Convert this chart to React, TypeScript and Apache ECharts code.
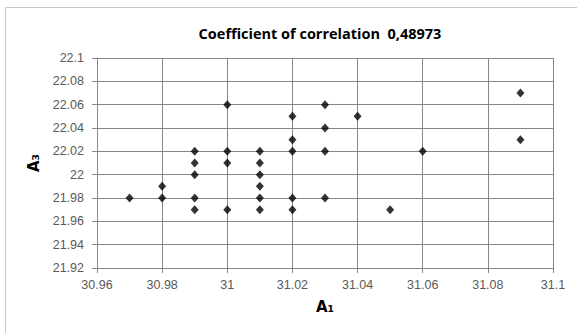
import React, { useEffect, useRef } from "react";
import * as echarts from "echarts";

const titleText = "Coefficient of correlation  0,48973";
const xName = "A₁";
const yName = "A₃";

const a1Values = [
  31.0, 31.03, 31.02, 31.04, 31.09, 31.03, 31.02, 31.09,
  30.99, 31.0, 31.01, 31.02, 31.03, 31.06,
  30.99, 31.0, 31.01,
  30.99, 31.01,
  30.98, 31.01,
  30.97, 30.98, 30.99, 31.01, 31.02, 31.03,
  30.99, 31.0, 31.01, 31.02, 31.05,
];
const a3Values = [
  22.06, 22.06, 22.05, 22.05, 22.07, 22.04, 22.03, 22.03,
  22.02, 22.02, 22.02, 22.02, 22.02, 22.02,
  22.01, 22.01, 22.01,
  22.0, 22.0,
  21.99, 21.99,
  21.98, 21.98, 21.98, 21.98, 21.98, 21.98,
  21.97, 21.97, 21.97, 21.97, 21.97,
];

const xMin = 30.96, xMax = 31.1, xStep = 0.02;
const yMin = 21.92, yMax = 22.1, yStep = 0.02;

const fmt = (v: number) => String(Math.round(v * 100) / 100);

export default function App() {
  const ref = useRef<HTMLDivElement>(null);
  useEffect(() => {
    if (!ref.current) return;
    const chart = echarts.init(ref.current, undefined, { renderer: "svg" });
    const grey = "#868686";
    const labelStyle = { color: "#595959", fontSize: 12.5, fontFamily: "Liberation Sans" };
    const nameStyle = { fontFamily: "DejaVu Sans", fontWeight: "bold", fontSize: 15, color: "#000" };
    chart.setOption({
      animation: false,
      backgroundColor: "#ffffff",
      title: {
        text: titleText,
        left: 315,
        top: 21,
        textAlign: "center",
        textStyle: { fontFamily: "Open Sans", fontWeight: "bold", fontSize: 14.5, color: "#000" },
      },
      graphic: [
        {
          type: "rect",
          shape: { x: 5.5, y: 7.5, width: 700, height: 500 },
          style: { fill: "none", stroke: "#c8c8c8", lineWidth: 1 },
          silent: true,
          z: -1,
        },
      ],
      grid: { left: 97, right: 24, top: 58, bottom: 65 },
      xAxis: {
        type: "value",
        min: xMin,
        max: xMax,
        interval: xStep,
        name: xName,
        nameLocation: "middle",
        nameGap: 31,
        nameTextStyle: nameStyle,
        axisLine: { show: true, lineStyle: { color: grey } },
        axisTick: { show: true, inside: false, length: 5, lineStyle: { color: grey } },
        splitLine: { show: true, lineStyle: { color: grey, width: 1 } },
        axisLabel: { ...labelStyle, margin: 10, formatter: fmt },
      },
      yAxis: {
        type: "value",
        min: yMin,
        max: yMax,
        interval: yStep,
        name: yName,
        nameLocation: "middle",
        nameGap: 55,
        nameRotate: 90,
        nameTextStyle: nameStyle,
        axisLine: { show: true, lineStyle: { color: grey } },
        axisTick: { show: true, inside: false, length: 5, lineStyle: { color: grey } },
        splitLine: { show: true, lineStyle: { color: grey, width: 1 } },
        axisLabel: { ...labelStyle, margin: 13, formatter: fmt },
      },
      series: [
        {
          type: "scatter",
          symbol: "diamond",
          symbolSize: [8, 9],
          itemStyle: { color: "#000" },
          data: a1Values.map((x, i) => [x, a3Values[i]]),
        },
      ],
    });
    return () => chart.dispose();
  }, []);
  return (
    <div
      ref={ref}
      style={{ position: "fixed", left: 0, top: 0, width: 577, height: 333 }}
    />
  );
}
